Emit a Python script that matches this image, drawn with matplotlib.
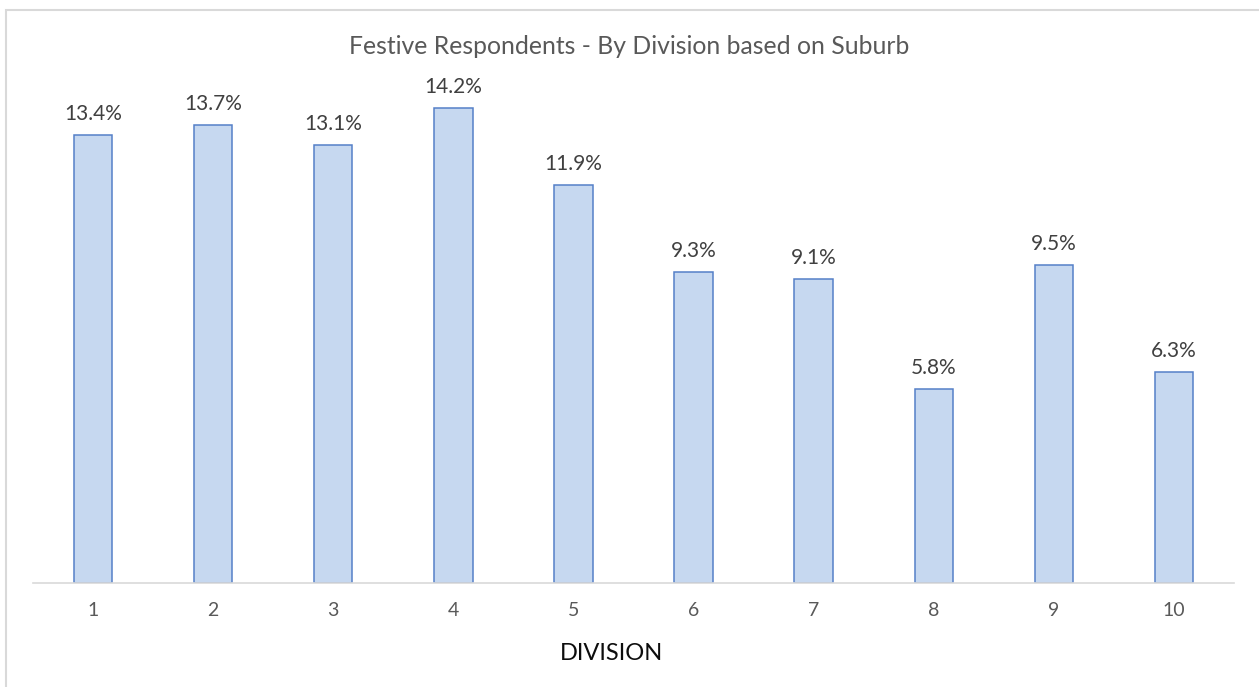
import matplotlib.pyplot as plt
from matplotlib.patches import Rectangle

divisions = ['1', '2', '3', '4', '5', '6', '7', '8', '9', '10']
share = [13.4, 13.7, 13.1, 14.2, 11.9, 9.3, 9.1, 5.8, 9.5, 6.3]

plt.rcParams['font.family'] = ['Lato', 'DejaVu Sans']

W, H = 1259, 687
fig = plt.figure(figsize=(W / 100, H / 100), dpi=100)
ax = fig.add_axes([33 / W, (H - 583) / H, (1234 - 33) / W, (583 - 48) / H])

x = range(len(divisions))
bars = ax.bar(x, share, width=0.32, color='#C6D8F0', edgecolor='#5580C8', linewidth=1.1)
for b, v in zip(bars, share):
    ax.annotate(f'{v}%', (b.get_x() + b.get_width() / 2, v), xytext=(0, 8),
                textcoords='offset points', ha='center', va='bottom',
                fontsize=15, color='#404040')

ax.set_xlim(-0.5, len(divisions) - 0.5)
ax.set_ylim(0, 16)
ax.set_xticks(list(x))
ax.set_xticklabels(divisions, fontsize=14, color='#595959')
ax.tick_params(axis='x', length=0, pad=14)
ax.set_yticks([])
for s in ['top', 'right', 'left']:
    ax.spines[s].set_visible(False)
ax.spines['bottom'].set_color('#D9D9D9')
ax.spines['bottom'].set_linewidth(1.2)

ax.set_xlabel('DIVISION', fontsize=17, color='#0D0D0D', va='center')
ax.xaxis.set_label_coords((612 - 33) / 1201, (583 - 654) / 535)
fig.text(629 / W, 1 - 47 / H, 'Festive Respondents - By Division based on Suburb',
         ha='center', va='center', fontsize=17.8, color='#595959')

fig.patches.append(Rectangle((6 / W, -0.1), 1.2, 1 - 10 / H + 0.1, transform=fig.transFigure,
                             fill=False, edgecolor='#D9D9D9', linewidth=1.5))

fig.savefig('out.png', dpi=100)
